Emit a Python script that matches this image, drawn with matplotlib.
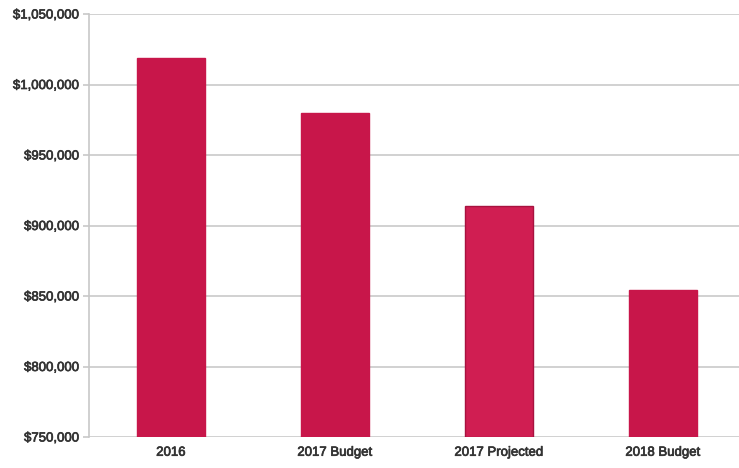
import matplotlib
matplotlib.use("Agg")
import matplotlib.pyplot as plt
import matplotlib.patheffects as pe
from matplotlib.ticker import FuncFormatter

categories = ["2016", "2017 Budget", "2017 Projected", "2018 Budget"]
values = [1019000, 980000, 913500, 854000]
y_ticks = [750000, 800000, 850000, 900000, 950000, 1000000, 1050000]

bar_colors = ["#C8164A", "#C8164A", "#D01E52", "#C8164A"]
edge_colors = ["#C8164A", "#C8164A", "#A8123F", "#C8164A"]

plt.rcParams["font.family"] = ["Liberation Sans", "DejaVu Sans"]

fig = plt.figure(figsize=(7.39, 4.68), dpi=100)
ax = fig.add_axes([89 / 739, 1 - 437 / 468, 1 - 89 / 739, (437 - 14) / 468])

x = list(range(len(categories)))
ax.bar(x, [v - y_ticks[0] for v in values], bottom=y_ticks[0], width=0.41,
       color=bar_colors, edgecolor=edge_colors, linewidth=1.0, zorder=3)

ax.set_ylim(y_ticks[0], y_ticks[-1])
ax.set_xlim(-0.5, 3.463)
ax.set_yticks(y_ticks)
ax.yaxis.set_major_formatter(FuncFormatter(lambda v, _: f"${v:,.0f}"))
ax.set_xticks(x)
ax.set_xticklabels(categories)

ax.grid(axis="y", color="#CACACA", linewidth=1.2, zorder=0)
for side in ("top", "right", "bottom"):
    ax.spines[side].set_visible(False)
ax.spines["left"].set_color("#C8C8C8")
ax.spines["left"].set_linewidth(1.2)

ax.tick_params(axis="y", length=4, color="#C8C8C8", width=1.2, pad=3,
               labelsize=9.5, labelcolor="#333333")
ax.tick_params(axis="x", length=0, pad=7, labelsize=9.5, labelcolor="#333333")
stroke = [pe.withStroke(linewidth=0.5, foreground="#333333")]
for lbl in ax.get_xticklabels() + ax.get_yticklabels():
    lbl.set_path_effects(stroke)

fig.savefig("out.png", dpi=100)
